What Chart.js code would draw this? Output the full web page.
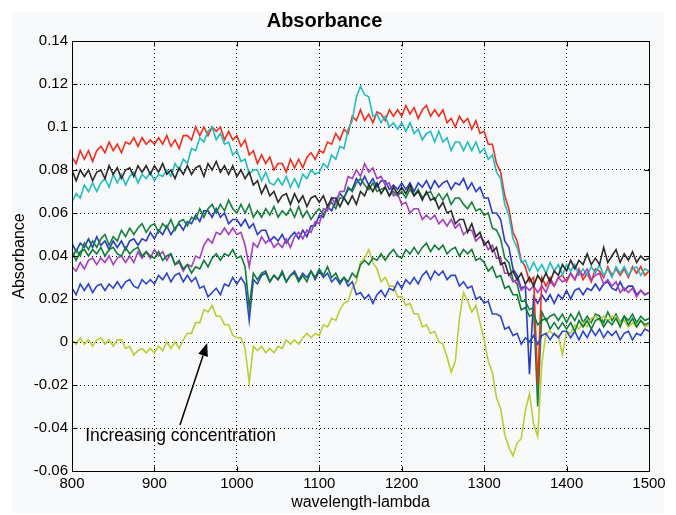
<!DOCTYPE html>
<html>
<head>
<meta charset="utf-8">
<title>Absorbance</title>
<script src="https://cdn.jsdelivr.net/npm/chart.js@4.4.1/dist/chart.umd.min.js"></script>
<style>
  html, body { margin: 0; padding: 0; background: #fff; }
</style>
</head>
<body>
<canvas id="absorb" width="676" height="515"></canvas>
<script>
// spectra are sampled every 5 nm from 800 to 1500 nm (141 points each)
// values are in milli-absorbance units (1 = 0.001)
var startNm = 800;
var stepNm = 5;

var blueHigh = [
  46,42,46,44,48,44,49,45,47,43,47,44,47,43,47,48,45,48,47,51,
  48,52,50,54,50,53,55,52,56,55,59,56,61,61,58,62,58,60,55,57,
  57,54,57,53,55,50,52,52,47,49,47,50,46,49,51,48,52,49,54,54,
  59,58,63,61,66,69,67,71,71,76,73,77,73,76,72,75,75,71,73,71,
  74,71,74,70,74,72,75,71,75,72,74,75,71,74,73,76,71,74,70,72,
  67,67,60,60,57,47,44,34,31,25,26,-15,21,18,22,19,22,18,22,20,
  24,20,24,25,22,25,24,27,24,27,28,25,24,28,24,26,26,22,24,22,
  23
];
var greenHigh = [
  39,43,40,46,43,47,44,48,50,45,49,47,52,49,53,50,53,55,51,54,
  55,51,55,53,57,52,56,57,54,58,57,62,58,62,64,60,64,61,66,62,
  60,64,60,64,58,61,58,62,59,63,58,61,59,62,58,63,58,61,57,60,
  62,59,63,65,62,67,67,72,70,74,76,73,71,74,70,71,72,68,70,68,
  70,67,71,68,71,67,69,70,66,69,66,69,64,67,67,64,62,65,61,62,
  59,60,53,52,48,39,37,29,27,19,19,15,16,-30,14,10,12,13,10,13,
  9,13,10,14,9,12,9,13,12,9,14,10,13,9,12,10,13,9,12,10,
  11
];
var red = [
  86,83,89,85,89,84,89,91,88,93,89,92,88,93,92,95,91,95,92,94,
  92,95,92,96,91,94,90,96,96,94,100,96,100,96,100,98,100,94,98,94,
  96,91,94,87,89,83,87,83,86,80,83,83,79,85,81,85,81,86,88,85,
  89,88,93,92,97,94,99,97,105,103,108,103,106,102,107,106,103,108,105,108,
  105,110,106,109,104,108,110,105,108,105,108,102,104,100,105,102,104,99,103,97,
  98,92,92,83,79,68,62,51,47,38,35,28,30,-20,30,26,30,26,30,31,
  28,32,29,34,29,32,28,34,33,30,35,31,34,31,34,30,35,32,35,31,
  33
];
var cyan = [
  65,69,67,73,70,74,70,74,76,72,78,74,78,73,77,79,74,78,76,79,
  75,78,77,80,77,83,80,85,83,90,89,95,93,98,100,94,97,92,93,87,
  89,84,85,78,80,80,75,79,74,73,76,73,77,72,76,72,78,76,80,78,
  79,83,81,87,85,91,90,99,103,114,119,115,114,105,106,102,105,100,102,99,
  102,98,102,97,99,94,97,98,93,98,93,95,89,93,93,89,93,89,93,88,
  90,85,87,79,76,64,59,48,44,37,38,33,37,33,36,32,37,33,36,31,
  36,33,36,31,34,31,35,32,36,31,34,30,35,32,35,31,34,35,31,34,
  33
];
var magenta = [
  35,33,37,34,38,39,36,39,37,40,36,39,40,37,40,37,42,39,42,39,
  43,40,42,38,41,36,37,33,36,35,40,39,45,48,46,51,50,53,50,53,
  50,51,45,35,46,44,49,46,48,44,46,44,48,44,49,51,48,52,51,56,
  55,62,61,67,64,70,70,77,76,80,77,83,79,81,76,77,73,74,68,69,
  64,65,60,62,62,57,59,57,59,55,57,54,57,53,55,50,52,52,47,49,
  47,43,45,39,39,32,32,28,29,24,26,24,26,23,26,23,28,26,30,28,
  29,32,29,33,31,34,29,31,32,27,29,26,28,23,25,23,25,21,24,22,
  23
];
var yellow = [
  1,-1,2,-1,1,-2,1,2,-1,1,-2,1,1,-3,-2,-6,-4,-3,-5,-3,
  -5,-2,-4,0,-3,0,-3,1,4,4,9,9,15,14,17,12,12,8,8,3,
  2,2,-3,-19,-2,-4,-2,-5,-3,-5,-2,-3,1,-1,1,-1,2,4,2,4,
  3,8,7,11,10,15,18,19,25,28,37,39,43,37,34,28,30,26,26,21,
  21,17,18,13,13,7,8,4,5,0,-1,-7,-14,-9,11,23,19,14,17,9,
  1,-9,-14,-26,-31,-43,-49,-53,-47,-45,-32,-24,-38,-44,-10,4,5,3,3,-6,
  5,4,8,6,9,7,11,12,10,12,10,12,12,9,10,7,9,7,10,7,
  8
];
var grey = [
  80,75,80,77,80,75,79,80,76,82,78,81,76,80,81,77,82,79,82,78,
  82,79,83,78,80,76,81,78,82,78,81,82,77,83,80,84,79,82,78,82,
  77,80,76,79,73,75,69,73,68,70,65,68,69,64,69,65,68,63,67,68,
  65,68,63,67,67,63,67,64,68,64,70,68,73,70,74,69,72,68,72,69,
  72,69,73,68,70,66,70,66,67,62,65,60,61,55,57,57,51,55,49,51,
  45,47,42,44,36,37,31,33,29,32,27,30,26,31,28,32,28,33,31,36,
  33,38,34,38,36,41,36,39,36,44,37,40,43,37,41,38,42,37,40,38,
  39
];
var blueLow = [
  25,22,27,24,27,23,26,27,24,27,25,28,25,28,29,26,25,29,27,29,
  27,31,29,32,28,31,32,28,31,28,30,25,26,21,23,25,22,27,26,30,
  27,30,27,10,29,27,31,32,28,31,29,32,28,31,33,29,32,30,33,29,
  33,30,32,28,30,27,30,26,28,22,23,20,22,18,22,24,21,25,24,28,
  25,29,27,30,27,31,33,29,33,31,33,29,31,31,26,28,25,26,20,21,
  18,19,13,13,12,6,7,3,4,-1,2,0,3,-1,3,4,1,4,2,5,
  5,2,5,1,5,2,6,3,6,2,5,3,5,1,4,5,1,4,3,6,
  5
];
var greenLow = [
  42,38,42,43,40,43,41,44,40,43,44,41,40,44,41,43,44,40,42,40,
  39,42,38,40,41,36,38,34,36,32,35,34,38,35,39,41,38,41,40,43,
  39,40,35,16,32,29,32,33,28,31,29,33,28,31,32,28,31,28,33,30,
  34,31,35,30,32,28,30,28,32,30,36,38,36,39,38,41,38,41,43,40,
  39,43,41,44,41,44,46,42,45,43,45,41,43,44,40,43,41,43,38,39,
  37,33,35,30,31,25,26,22,22,15,16,12,13,8,10,11,6,9,6,9,
  6,9,5,10,7,10,6,10,11,7,10,8,11,7,12,8,11,7,10,8,
  9
];

var xTicks = [800, 900, 1000, 1100, 1200, 1300, 1400, 1500];
var yTicks = [-0.06, -0.04, -0.02, 0, 0.02, 0.04, 0.06, 0.08, 0.1, 0.12, 0.14];

// annotation, in data units (nm, absorbance)
var noteText = 'Increasing concentration';
var noteAt = [816, -0.0437];
var arrowTail = [931, -0.0386];
var arrowHead = [964, -0.0005];

// plotting order as in matlab: later lines lie on top
var spectra = [blueHigh, greenHigh, red, cyan, magenta, yellow, grey, blueLow, greenLow];
var lineColors = ['#2a3cc6', '#15813a', '#ef2e1e', '#22bcc2', '#a63fbf', '#bccc34', '#2b2b2b', '#2d47c8', '#0f7a34'];

var FONT = '"Liberation Sans", Arial, Helvetica, sans-serif';
Chart.defaults.font.family = FONT;
Chart.defaults.color = '#000';

var datasets = spectra.map(function(vals, i) {
  return {
    data: vals.map(function(v, k) { return { x: startNm + k * stepNm, y: v / 1000 }; }),
    borderColor: lineColors[i],
    borderWidth: 1.6,
    pointRadius: 0,
    tension: 0,
    fill: false,
    order: spectra.length - 1 - i
  };
});

var framePlugin = {
  id: 'frame',
  beforeDraw: function(chart) {
    var c = chart.ctx;
    c.save();
    c.fillStyle = '#ffffff';
    c.fillRect(0, 0, chart.width, chart.height);
    c.fillStyle = '#f8f9fb';
    c.fillRect(12, 12, chart.width - 24, chart.height - 14);
    c.restore();
  },
  afterDatasetsDraw: function(chart) {
    var c = chart.ctx, a = chart.chartArea;
    var sx = chart.scales.x, sy = chart.scales.y;
    var L = Math.round(a.left) + 0.5, R = Math.round(a.right) + 0.5;
    var T = Math.round(a.top) + 0.5, B = Math.round(a.bottom) + 0.5;
    c.save();
    c.strokeStyle = '#000';
    c.lineWidth = 1;
    c.beginPath();
    c.rect(L, T, R - L, B - T);
    var len = 5;
    xTicks.forEach(function(v) {
      var px = Math.round(sx.getPixelForValue(v)) + 0.5;
      c.moveTo(px, B); c.lineTo(px, B - len);
      c.moveTo(px, T); c.lineTo(px, T + len);
    });
    yTicks.forEach(function(v) {
      var py = Math.round(sy.getPixelForValue(v)) + 0.5;
      c.moveTo(L, py); c.lineTo(L + len, py);
      c.moveTo(R, py); c.lineTo(R - len, py);
    });
    c.stroke();

    // arrow
    var x0 = sx.getPixelForValue(arrowTail[0]), y0 = sy.getPixelForValue(arrowTail[1]);
    var x1 = sx.getPixelForValue(arrowHead[0]), y1 = sy.getPixelForValue(arrowHead[1]);
    var ang = Math.atan2(y1 - y0, x1 - x0);
    var hl = 13, hw = 5;
    var bx = x1 - hl * Math.cos(ang), by = y1 - hl * Math.sin(ang);
    c.lineWidth = 1.5;
    c.beginPath();
    c.moveTo(x0, y0);
    c.lineTo(bx, by);
    c.stroke();
    c.fillStyle = '#000';
    c.beginPath();
    c.moveTo(x1, y1);
    c.lineTo(bx + hw * Math.sin(ang), by - hw * Math.cos(ang));
    c.lineTo(bx - hw * Math.sin(ang), by + hw * Math.cos(ang));
    c.closePath();
    c.fill();

    c.font = '17.5px ' + FONT;
    c.textAlign = 'left';
    c.textBaseline = 'middle';
    c.fillText(noteText, sx.getPixelForValue(noteAt[0]), sy.getPixelForValue(noteAt[1]));
    c.restore();
  }
};

new Chart(document.getElementById('absorb'), {
  type: 'line',
  data: { datasets: datasets },
  plugins: [framePlugin],
  options: {
    responsive: false,
    animation: false,
    events: [],
    layout: { padding: { left: 0, right: 27, top: 0, bottom: 0 } },
    plugins: {
      legend: { display: false },
      tooltip: { enabled: false },
      title: {
        display: true,
        text: 'Absorbance',
        color: '#000',
        font: { size: 20, weight: 'bold' },
        padding: { top: 9, bottom: 8 }
      }
    },
    scales: {
      x: {
        type: 'linear',
        min: 800,
        max: 1500,
        afterFit: function(s) { s.height = 44; },
        afterBuildTicks: function(s) { s.ticks = xTicks.map(function(v) { return { value: v }; }); },
        ticks: {
          font: { size: 15 },
          padding: 4,
          maxRotation: 0,
          color: '#000',
          callback: function(v) { return String(v); }
        },
        grid: { color: '#000', lineWidth: 1, drawTicks: false },
        border: { display: false, dash: [1, 3] },
        title: { display: true, text: 'wavelength-lambda', font: { size: 16 }, padding: { top: 0, bottom: 3 }, color: '#000' }
      },
      y: {
        min: -0.06,
        max: 0.14,
        afterFit: function(s) { s.width = 72; },
        afterBuildTicks: function(s) { s.ticks = yTicks.map(function(v) { return { value: v }; }); },
        ticks: {
          font: { size: 15 },
          padding: 4,
          color: '#000',
          callback: function(v) { return String(Math.round(v * 100) / 100); }
        },
        grid: { color: '#000', lineWidth: 1, drawTicks: false },
        border: { display: false, dash: [1, 3] },
        title: { display: true, text: 'Absorbance', font: { size: 16 }, padding: { top: 10, bottom: 0 }, color: '#000' }
      }
    }
  }
});
</script>
</body>
</html>
